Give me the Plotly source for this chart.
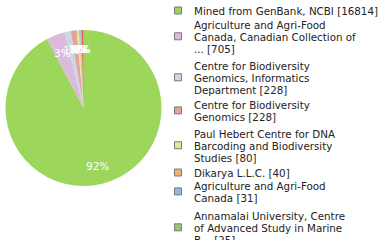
import math
import plotly.graph_objects as go

labels = [
    "Mined from GenBank, NCBI [16814]",
    "Agriculture and Agri-Food<br>Canada, Canadian Collection of<br>... [705]",
    "Centre for Biodiversity<br>Genomics, Informatics<br>Department [228]",
    "Centre for Biodiversity<br>Genomics [228]",
    "Paul Hebert Centre for DNA<br>Barcoding and Biodiversity<br>Studies [80]",
    "Dikarya L.L.C. [40]",
    "Agriculture and Agri-Food<br>Canada [31]",
    "Annamalai University, Centre<br>of Advanced Study in Marine<br>B... [25]",
    "Other [75]",
]
values = [16814, 705, 228, 228, 80, 40, 31, 25, 75]
colors = ["#9cd75c", "#dbbadb", "#cad8e3", "#e0a59a", "#dfe69f",
          "#f0ae78", "#98b8da", "#9cc57a", "#e06050"]

W, H = 380, 240
# pie geometry (pixels)
CX, CY, R = 83.5, 108.0, 78.0

fig = go.Figure(go.Pie(
    labels=labels, values=values, sort=False, direction="clockwise",
    rotation=0,
    marker=dict(colors=colors, line=dict(width=0)),
    textinfo="none",
    domain=dict(x=[(CX - R) / W, (CX + R) / W], y=[1 - (CY + R) / H, 1 - (CY - R) / H]),
    hoverinfo="label+value",
    showlegend=False,
))

annotations = []
shapes = []

# percent labels inside the pie, placed at the middle angle of each slice
total = sum(values)
cum = 0.0
for v in values:
    mid = (cum + v / 2) / total * 2 * math.pi
    cum += v
    r = 0.76 * R
    px = CX + r * math.sin(mid)
    py = CY - r * math.cos(mid)
    annotations.append(dict(
        x=px / W, y=1 - py / H, xref="paper", yref="paper",
        text=f"{math.floor(v / total * 100)}%", showarrow=False,
        xanchor="center", yanchor="middle",
        font=dict(family="DejaVu Sans", size=10.5, color="white"),
    ))

# legend (drawn manually)
item_tops = [11, 25, 66, 105, 134, 173, 186, 216]
line_step = 11.8
text_x = 192
for i, lab in enumerate(labels):
    if i >= len(item_tops):
        break
    lines = lab.split("<br>")
    ys = [item_tops[i] + k * line_step for k in range(len(lines))]
    for line, y in zip(lines, ys):
        annotations.append(dict(
            x=text_x / W, y=1 - y / H, xref="paper", yref="paper",
            text=line, showarrow=False, xanchor="left", yanchor="middle",
            font=dict(family="DejaVu Sans", size=10.3, color="#222222"),
        ))
    yc = sum(ys) / len(ys) - 0.5
    shapes.append(dict(
        type="rect", xref="paper", yref="paper",
        x0=174.5 / W, x1=181.5 / W, y0=1 - (yc + 3.5) / H, y1=1 - (yc - 3.5) / H,
        fillcolor=colors[i], line=dict(color="#7a7a7a", width=1),
    ))

fig.update_layout(
    width=W, height=H, margin=dict(l=0, r=0, t=0, b=0),
    paper_bgcolor="white", plot_bgcolor="white",
    annotations=annotations, shapes=shapes,
)
fig.write_html("out.html")
